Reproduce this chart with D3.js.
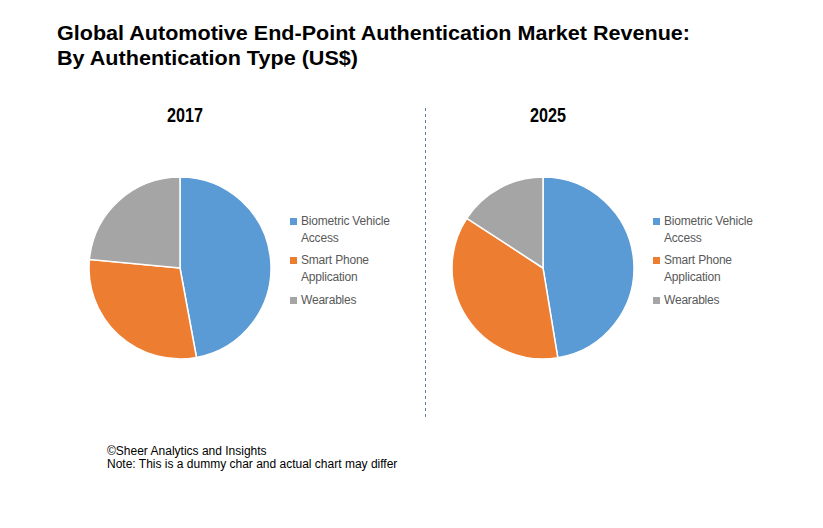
<!DOCTYPE html>
<html><head><meta charset="utf-8">
<script src="https://cdn.jsdelivr.net/npm/d3@7"></script>
<style>body{margin:0;background:#fff;} svg{display:block;}</style>
</head><body>
<svg id="c" width="823" height="528"></svg>
<script>
const categories = ["Biometric Vehicle Access", "Smart Phone Application", "Wearables"];
const legendLines = [["Biometric Vehicle", "Access"], ["Smart Phone", "Application"], ["Wearables"]];
const years = ["2017", "2025"];
const values2017 = [47.1, 29.4, 23.5];
const values2025 = [47.4, 36.8, 15.8];
const colors = ["#5B9BD5", "#ED7D31", "#A5A5A5"];
const titleLines = ["Global Automotive End-Point Authentication Market Revenue:", "By Authentication Type (US$)"];
const footLines = ["\u00A9Sheer Analytics and Insights", "Note: This is a dummy char and actual chart may differ"];

const svg = d3.select("#c");
const font = "'Liberation Sans', Arial, sans-serif";

// Title
const titleW = [633, 301];
titleLines.forEach((t, i) => {
  svg.append("text").attr("x", 57).attr("y", 40 + i * 24.5)
    .attr("font-family", font).attr("font-weight", "bold").attr("font-size", 21)
    .attr("fill", "#000").text(t)
    .attr("textLength", titleW[i]).attr("lengthAdjust", "spacingAndGlyphs");
});

const color = d3.scaleOrdinal().domain(categories).range(colors);
const pie = d3.pie().sort(null).value(d => d.v);
const arc = d3.arc().innerRadius(0).outerRadius(91);

const panels = [
  {year: years[0], values: values2017, cx: 180, yx: 185, lx: 290},
  {year: years[1], values: values2025, cx: 543, yx: 548, lx: 653}
];

panels.forEach(p => {
  svg.append("text").attr("x", p.yx - 18).attr("y", 121.5)
    .attr("font-family", font).attr("font-weight", "bold").attr("font-size", 21)
    .attr("fill", "#000").text(p.year)
    .attr("textLength", 36).attr("lengthAdjust", "spacingAndGlyphs");
  const g = svg.append("g").attr("transform", `translate(${p.cx},268)`);
  const data = categories.map((c, i) => ({c, v: p.values[i]}));
  g.selectAll("path").data(pie(data)).join("path")
    .attr("d", arc).attr("fill", d => color(d.data.c))
    .attr("stroke", "#fff").attr("stroke-width", 1.5);

  const lg = svg.append("g");
  const ys = [225, 264, 304];
  legendLines.forEach((lines, i) => {
    lg.append("rect").attr("x", p.lx).attr("y", ys[i] - 7).attr("width", 7).attr("height", 7)
      .attr("fill", colors[i]);
    lines.forEach((ln, j) => {
      lg.append("text").attr("x", p.lx + 11).attr("y", ys[i] + j * 17)
        .attr("font-family", font).attr("font-size", 12).attr("fill", "#595959")
        .attr("letter-spacing", -0.2).text(ln);
    });
  });
});

// divider
svg.append("line").attr("x1", 425.5).attr("x2", 425.5).attr("y1", 108).attr("y2", 420)
  .attr("stroke", "#5B7FA6").attr("stroke-width", 1).attr("stroke-dasharray", "3,3");

footLines.forEach((t, i) => {
  svg.append("text").attr("x", 107).attr("y", 455 + i * 13)
    .attr("font-family", font).attr("font-size", 12).attr("fill", "#000")
    .text(t);
});
</script>
</body></html>
